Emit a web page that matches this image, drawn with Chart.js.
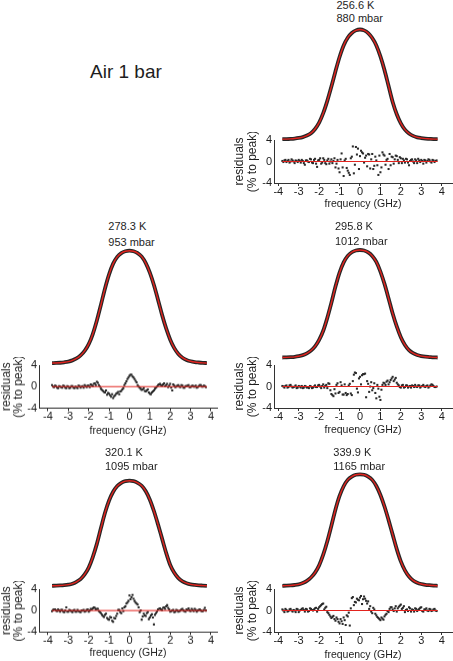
<!DOCTYPE html>
<html><head><meta charset="utf-8">
<script src="https://cdn.jsdelivr.net/npm/chart.js@4.4.1/dist/chart.umd.min.js"></script>
<style>
html,body{margin:0;padding:0;background:#fff;}
body{width:453px;height:661px;position:relative;overflow:hidden;font-family:"Liberation Sans",Arial,sans-serif;color:#1e1e1e;}
canvas{position:absolute;}
.lbl{position:absolute;white-space:nowrap;font-size:11px;line-height:13px;}
</style></head><body>
<div class="lbl" style="left:90px;top:61px;font-size:19px;line-height:22px">Air 1 bar</div>
<script>
// ---------- data ----------
const temperatures = ['256.6 K','278.3 K','295.8 K','320.1 K','339.9 K'];
const pressures = ['880 mbar','953 mbar','1012 mbar','1095 mbar','1165 mbar'];

const specFreq = [-3.8,-3.6,-3.4,-3.2,-3.0,-2.8,-2.6,-2.4,-2.2,-2.0,-1.8,-1.6,-1.4,-1.2,-1.0,-0.8,-0.6,-0.4,-0.2,0,
  0.2,0.4,0.6,0.8,1.0,1.2,1.4,1.6,1.8,2.0,2.2,2.4,2.6,2.8,3.0,3.2,3.4,3.6,3.8];
const spec256 = [0.001,0.002,0.004,0.007,0.012,0.02,0.034,0.056,0.094,0.152,0.238,0.35,0.48,0.62,0.75,0.855,0.925,0.968,0.992,1.0,
  0.992,0.967,0.922,0.855,0.755,0.63,0.485,0.34,0.228,0.145,0.088,0.053,0.031,0.018,0.011,0.006,0.004,0.002,0.001];
const spec278 = [0.002,0.003,0.005,0.009,0.015,0.026,0.043,0.07,0.11,0.17,0.26,0.38,0.52,0.665,0.79,0.885,0.945,0.979,0.995,1.0,
  0.995,0.979,0.947,0.89,0.805,0.695,0.565,0.43,0.31,0.21,0.135,0.083,0.05,0.03,0.018,0.011,0.007,0.004,0.002];
const spec296 = [0.002,0.003,0.005,0.008,0.014,0.024,0.04,0.066,0.105,0.165,0.25,0.37,0.51,0.66,0.79,0.885,0.945,0.979,0.995,1.0,
  0.995,0.978,0.945,0.89,0.80,0.685,0.55,0.41,0.29,0.19,0.118,0.07,0.042,0.025,0.015,0.009,0.006,0.003,0.002];
const spec320 = [0.002,0.003,0.005,0.008,0.013,0.022,0.04,0.066,0.11,0.175,0.275,0.40,0.55,0.695,0.812,0.895,0.95,0.98,0.996,1.0,
  0.996,0.98,0.952,0.9,0.82,0.712,0.585,0.45,0.315,0.2,0.125,0.075,0.045,0.027,0.016,0.01,0.006,0.004,0.002];
const spec340 = [0.002,0.003,0.005,0.009,0.015,0.027,0.046,0.076,0.12,0.185,0.28,0.40,0.54,0.685,0.806,0.893,0.95,0.98,0.996,1.0,
  0.996,0.98,0.95,0.895,0.815,0.712,0.59,0.46,0.33,0.22,0.14,0.085,0.05,0.03,0.018,0.011,0.007,0.004,0.002];

// residual frequencies (two interleaved grids)
const resFreqA = [-3.8,-3.7,-3.6,-3.5,-3.4,-3.3,-3.2,-3.1,-3.0,-2.9,-2.8,-2.7,-2.6,-2.5,-2.4,-2.3,-2.2,-2.1,-2.0,-1.9,
  -1.8,-1.7,-1.6,-1.5,-1.4,-1.3,-1.2,-1.1,-1.0,-0.9,-0.8,-0.7,-0.6,-0.5,-0.4,-0.3,-0.2,-0.1,0.0,0.1,
  0.2,0.3,0.4,0.5,0.6,0.7,0.8,0.9,1.0,1.1,1.2,1.3,1.4,1.5,1.6,1.7,1.8,1.9,2.0,2.1,
  2.2,2.3,2.4,2.5,2.6,2.7,2.8,2.9,3.0,3.1,3.2,3.3,3.4,3.5,3.6,3.7];
const resFreqB = [-3.75,-3.65,-3.55,-3.45,-3.35,-3.25,-3.15,-3.05,-2.95,-2.85,-2.75,-2.65,-2.55,-2.45,-2.35,-2.25,-2.15,-2.05,-1.95,-1.85,
  -1.75,-1.65,-1.55,-1.45,-1.35,-1.25,-1.15,-1.05,-0.95,-0.85,-0.75,-0.65,-0.55,-0.45,-0.35,-0.25,-0.15,-0.05,0.05,0.15,
  0.25,0.35,0.45,0.55,0.65,0.75,0.85,0.95,1.05,1.15,1.25,1.35,1.45,1.55,1.65,1.75,1.85,1.95,2.05,2.15,
  2.25,2.35,2.45,2.55,2.65,2.75,2.85,2.95,3.05,3.15,3.25,3.35,3.45,3.55,3.65,3.75];

const res256a = [0.1,0.2,-0.1,0.3,0.0,0.2,-0.3,0.1,0.3,-0.2, 0.1,-0.6,0.2,-0.1,0.4,-0.3,0.5,-1.0,0.3,-0.4,
  0.6,-0.3,0.2,-0.4,0.4,0.1,-1.1,0.3,-2.0,1.5, -2.7,0.5,-1.7,-2.5,0.9,-2.2,2.7,2.4,1.0,1.7,
  -0.2,1.1,1.4,-1.3,1.4,-0.8,0.2,-2.5,-2.0,1.7, 1.1,0.3,-1.4,-0.7,0.8,0.4,1.0,-0.3,0.6,0.5,
  -0.2,0.4,-0.7,0.3,0.0,0.4,-0.3,0.2,0.3,-0.4, 0.2,0.1,0.3,-0.2,0.2,0.1];
const res256b = [-0.1,0.3,0.1,-0.2,0.4,0.0,0.2,-0.1,0.1,0.3, -0.3,0.2,0.0,0.5,-0.2,0.3,-0.4,0.2,0.6,-0.2,
  0.3,-0.5,0.5,0.0,-0.3,0.6,-0.4,-1.3,0.4,-1.1, 0.2,-1.2,-2.1,0.6,2.8,-0.6,1.3,-1.4,2.0,1.5,
  0.7,-0.9,1.3,0.4,-1.4,0.9,-0.7,1.1,-1.1,1.3, -0.6,0.5,1.4,0.9,-0.4,1.1,0.3,0.8,-0.3,0.2,
  0.5,-0.2,0.1,0.4,-0.3,0.2,0.5,-0.1,0.1,0.3, -0.2,0.4,0.0,0.3,-0.1,0.2];
const res278a = [0.3,-0.1,0.1,-0.3,0.0,-0.2,0.1,-0.3,0.0,-0.2, 0.1,-0.3,-0.1,0.2,-0.2,0.1,0.3,-0.1,0.2,0.4,
  0.1,0.6,0.9,0.3,-0.4,-0.8,-1.1,-1.5,-1.3,-1.9, -2.1,-1.6,-1.2,-1.4,-0.8,-0.3,0.6,1.4,2.0,2.2,
  1.7,1.1,0.3,-0.2,-0.6,-0.3,-0.9,-0.5,-1.3,-1.1, -0.7,-0.2,0.3,0.5,0.2,0.6,0.3,-0.1,0.5,-0.7,
  0.2,0.0,0.3,-0.1,0.2,-0.2,0.1,0.3,-0.1,0.2, 0.0,-0.2,0.1,0.3,0.0,0.1];
const res278b = [0.0,0.2,-0.2,0.1,-0.1,0.2,-0.2,0.1,-0.3,0.1, -0.2,0.0,-0.3,0.1,0.0,-0.2,0.1,0.2,-0.1,0.3,
  0.5,0.3,0.7,0.0,-0.6,-1.0,-0.7,-1.2,-1.6,-1.4, -1.8,-1.3,-1.0,-0.9,-0.5,0.3,1.0,1.7,2.2,1.9,
  1.4,0.8,0.0,-0.4,-0.5,-0.8,-0.7,-1.1,-1.4,-0.9, -0.4,0.0,0.4,0.3,0.4,0.1,0.5,0.2,-0.2,0.4,
  -0.1,0.2,0.0,0.3,-0.2,0.1,0.2,-0.1,0.1,0.0, 0.2,-0.1,0.3,0.0,0.2,-0.1];
const res296a = [0.1,-0.2,0.2,-0.1,0.3,-0.2,0.0,-0.3,0.1,-0.2, -0.3,0.1,-0.2,-0.3,0.0,-0.2,0.2,-0.1,0.3,-0.3,
  0.4,0.1,-0.3,0.5,-1.4,-1.8,-1.3,0.6,-1.0,0.2, -1.5,-1.2,-1.4,0.5,-1.6,2.2,2.5,-1.1,1.8,2.1,
  2.3,-2.0,0.5,0.0,-0.7,0.6,-2.2,-0.4,-2.5,0.3, 0.6,0.9,0.4,1.2,1.8,1.3,0.7,0.2,-0.2,0.3,
  -0.1,0.2,0.0,-0.2,0.1,0.3,-0.1,0.2,0.0,0.3, -0.1,0.2,0.0,0.4,0.1,-0.1];
const res296b = [0.0,0.1,-0.2,0.2,0.0,-0.1,0.2,-0.2,0.0,0.1, -0.2,0.0,-0.1,0.1,-0.3,0.0,-0.1,0.2,0.0,0.1,
  -0.2,0.3,0.6,-0.7,-1.6,-0.5,0.3,-1.2,0.8,-1.5, 0.4,-1.6,0.2,-1.3,1.0,2.6,-0.4,1.5,0.4,2.3,
  2.4,1.0,-1.0,0.8,-0.3,-1.2,0.3,-1.9,-0.6,0.7, 0.3,1.1,0.8,1.5,1.0,1.6,0.4,-0.1,0.2,-0.2,
  0.2,-0.2,0.1,0.2,-0.1,0.0,0.2,-0.2,0.1,0.0, 0.1,-0.2,0.2,0.3,-0.1,0.0];
const res320a = [-0.1,0.2,0.0,0.2,-0.2,0.1,-0.3,0.6,-0.2,0.0, -0.3,0.1,-0.2,-0.1,-0.3,0.0,-0.2,0.1,-0.2,0.3,
  0.4,0.5,0.3,-0.1,-0.5,-1.0,-0.8,-1.4,-1.7,-1.3, -2.1,-1.5,-0.6,0.1,-0.5,-0.1,0.8,1.5,2.8,2.5,
  2.2,1.5,1.1,-0.3,-1.7,-0.6,-1.0,-0.3,-1.3,-0.7, -2.6,-0.5,0.2,0.4,0.1,0.6,0.8,0.5,-0.2,0.0,
  -0.3,0.1,-0.2,0.0,0.3,-0.1,0.2,0.4,-0.1,0.1, 0.3,-0.2,0.1,0.0,-0.1,0.5];
const res320b = [0.1,0.2,-0.1,0.0,0.1,-0.2,0.0,-0.2,0.1,-0.1, 0.0,-0.2,0.1,-0.2,0.0,0.1,-0.1,0.2,0.0,0.2,
  0.6,0.2,0.3,-0.3,-0.8,-1.2,-0.6,-1.6,-1.2,-1.9, -1.4,-1.0,0.1,-0.3,0.4,0.6,1.3,1.8,2.1,2.9,
  1.8,1.3,0.6,0.0,-1.1,-0.9,-0.5,-1.6,-0.9,-1.3, -0.8,-0.2,0.3,0.2,0.5,0.3,1.0,0.2,-0.1,0.1,
  -0.2,0.0,-0.1,0.2,0.0,-0.2,0.1,0.0,0.3,-0.1, 0.1,0.0,0.2,-0.1,0.1,0.0];
const res340a = [0.2,-0.3,0.1,-0.1,0.3,-0.2,0.0,0.3,-0.3,0.1, 0.4,-0.2,0.2,-0.1,0.3,0.0,0.4,-0.2,0.6,1.0,
  1.3,0.5,-0.3,-0.8,-1.4,-1.0,-1.9,-1.6,-2.4,-2.0, -1.3,-2.7,-1.1,-2.8,2.3,1.0,1.5,2.0,2.4,1.2,
  2.6,1.8,1.7,0.8,-0.5,0.2,-0.9,-1.4,-1.8,-1.5, -1.1,-0.6,-0.3,0.6,0.2,0.4,-0.2,0.7,1.1,0.5,
  -0.3,0.2,0.6,-0.2,0.1,0.4,-0.1,0.3,0.6,-0.2, 0.2,0.0,0.3,-0.1,0.2,0.0];
const res340b = [0.0,0.3,-0.2,0.2,0.0,0.1,-0.3,0.2,0.0,0.3, 0.1,0.3,-0.2,0.4,0.1,0.2,0.5,0.3,0.8,1.2,
  0.2,0.7,-0.5,-1.1,-1.2,-1.6,-1.3,-2.1,-1.6,-2.5, -1.8,-0.9,-0.4,0.4,2.5,1.6,2.2,1.9,2.7,2.1,
  2.2,1.3,0.3,-0.2,0.5,-0.6,-1.2,-1.6,-1.3,-1.7, -0.8,-0.1,0.3,0.6,-0.1,0.8,0.4,0.9,0.3,0.8,
  0.1,-0.1,0.4,0.2,-0.2,0.3,0.1,0.5,-0.1,0.2, 0.4,-0.1,0.2,0.0,0.3,-0.1];

const zeroFreq = [-3.8, 3.8];
const zeroRes = [0, 0];
const xTicks = [-4,-3,-2,-1,0,1,2,3,4];
const yTicks = [-4,-2,0,2,4];

// ---------- layout (pixels) ----------
const FONT = '"Liberation Sans", Arial, sans-serif';
const RED = '#e2231e';
const INK = '#1e1e1e';
const COLS = {
  L: {axisL: 39, axisR: 217, xMin: -4.44, xMax: 4.296, canvasL: 0, canvasR: 223, yTitlePad: 0},
  R: {axisL: 274, axisR: 452, xMin: -4.21, xMax: 4.505, canvasL: 228, canvasR: 453, yTitlePad: 5.7}
};
const panels = [
  {spec: spec256, resA: res256a, resB: res256b, col:'R', peakY:29.5, baseY:139.3, resTop:140, resBot:183, xTitleOff:21, tx:336.5, ty1:5, ty2:18.3},
  {spec: spec278, resA: res278a, resB: res278b, col:'L', peakY:250.7, baseY:363.3, resTop:365, resBot:408, xTitleOff:22.5, tx:108.3, ty1:226, ty2:242},
  {spec: spec296, resA: res296a, resB: res296b, col:'R', peakY:250, baseY:357.7, resTop:365, resBot:408, xTitleOff:22, tx:335, ty1:226, ty2:241.7},
  {spec: spec320, resA: res320a, resB: res320b, col:'L', peakY:480.7, baseY:586, resTop:589, resBot:632, xTitleOff:20.7, tx:105, ty1:452.7, ty2:466},
  {spec: spec340, resA: res340a, resB: res340b, col:'R', peakY:474.3, baseY:586, resTop:589, resBot:632, xTitleOff:23, tx:333.3, ty1:452.7, ty2:466}
];

Chart.defaults.font.family = FONT;
Chart.defaults.color = INK;

function makeCanvas(left, top, w, h) {
  const c = document.createElement('canvas');
  c.width = w; c.height = h;
  c.style.left = left + 'px'; c.style.top = top + 'px';
  c.style.width = w + 'px'; c.style.height = h + 'px';
  document.body.appendChild(c);
  return c;
}
function addLabel(text, left, centerY) {
  const d = document.createElement('div');
  d.className = 'lbl';
  d.textContent = text;
  d.style.left = left + 'px';
  d.style.top = (centerY - 6.5) + 'px';
  document.body.appendChild(d);
}
const dotStyle = {pointStyle: 'rect', pointRadius: 1.45, backgroundColor: '#2a2a2a', borderWidth: 0, order: 1};

panels.forEach((p, i) => {
  const col = COLS[p.col];
  addLabel(temperatures[i], p.tx, p.ty1);
  addLabel(pressures[i], p.tx, p.ty2);

  // spectrum (measured band + red fit)
  const sH = p.baseY - p.peakY;
  const cTop = Math.round(p.peakY - 0.12 * sH);
  const cH = Math.round(1.24 * sH);
  const yMax = (p.baseY - cTop) / sH;
  const yMin = (p.baseY - (cTop + cH)) / sH;
  const sW = col.axisR - col.axisL;
  const sc = makeCanvas(col.axisL, cTop, sW, cH);
  const pts = specFreq.map((f, k) => ({x: f, y: p.spec[k]}));
  new Chart(sc, {
    type: 'line',
    data: {datasets: [
      {data: pts, borderColor: RED, borderWidth: 1.4, pointRadius: 0, cubicInterpolationMode: 'monotone', order: 0, clip: false},
      {data: pts, borderColor: '#262626', borderWidth: 3.8, pointRadius: 0, cubicInterpolationMode: 'monotone', order: 1, clip: false}
    ]},
    options: {
      responsive: false, animation: false, events: [],
      plugins: {legend: {display: false}, tooltip: {enabled: false}},
      layout: {padding: 0, autoPadding: false},
      scales: {
        x: {type: 'linear', display: false, min: col.xMin, max: col.xMax},
        y: {type: 'linear', display: false, min: yMin, max: yMax}
      }
    }
  });

  // residuals
  const padTop = 8, padBottom = 2;
  const hx = p.xTitleOff + 6;
  const rTop = p.resTop - padTop;
  const rH = padTop + (p.resBot - p.resTop) + hx + padBottom;
  const rW = col.canvasR - col.canvasL;
  const rc = makeCanvas(col.canvasL, rTop, rW, rH);
  new Chart(rc, {
    type: 'scatter',
    data: {datasets: [
      {type: 'line', data: zeroFreq.map((f, k) => ({x: f, y: zeroRes[k]})), borderColor: RED, borderWidth: 1, pointRadius: 0, order: 0},
      Object.assign({data: resFreqA.map((f, k) => ({x: f, y: p.resA[k]}))}, dotStyle),
      Object.assign({data: resFreqB.map((f, k) => ({x: f, y: p.resB[k]}))}, dotStyle)
    ]},
    options: {
      responsive: false, animation: false, events: [],
      plugins: {legend: {display: false}, tooltip: {enabled: false}},
      layout: {padding: {top: padTop, left: 0, right: col.canvasR - col.axisR, bottom: padBottom}, autoPadding: false},
      scales: {
        x: {
          type: 'linear', min: col.xMin, max: col.xMax,
          afterBuildTicks: s => { s.ticks = xTicks.map(v => ({value: v})); },
          afterFit: s => { s.height = hx; },
          grid: {display: true, drawOnChartArea: false, drawTicks: true, tickLength: 3, color: '#333'},
          border: {display: true, color: '#333', width: 1},
          ticks: {font: {size: 11, lineHeight: 1}, color: INK, padding: 0, maxRotation: 0, autoSkip: false, callback: v => String(v)},
          title: {display: true, text: 'frequency (GHz)', font: {size: 10.5, lineHeight: 1.2}, color: INK, padding: 0}
        },
        y: {
          type: 'linear', min: -4, max: 4,
          afterBuildTicks: s => { s.ticks = yTicks.map(v => ({value: v})); },
          afterFit: s => { s.width = col.axisL - col.canvasL; },
          grid: {display: false, drawTicks: false},
          border: {display: true, color: '#333', width: 1},
          ticks: {font: {size: 11, lineHeight: 1}, color: INK, padding: 2, callback: v => String(v)},
          title: {display: true, text: ['residuals', '(% to peak)'], font: {size: 12, lineHeight: 1.05}, color: INK, padding: {top: col.yTitlePad, bottom: 0}}
        }
      }
    }
  });
});
</script>
</body></html>
